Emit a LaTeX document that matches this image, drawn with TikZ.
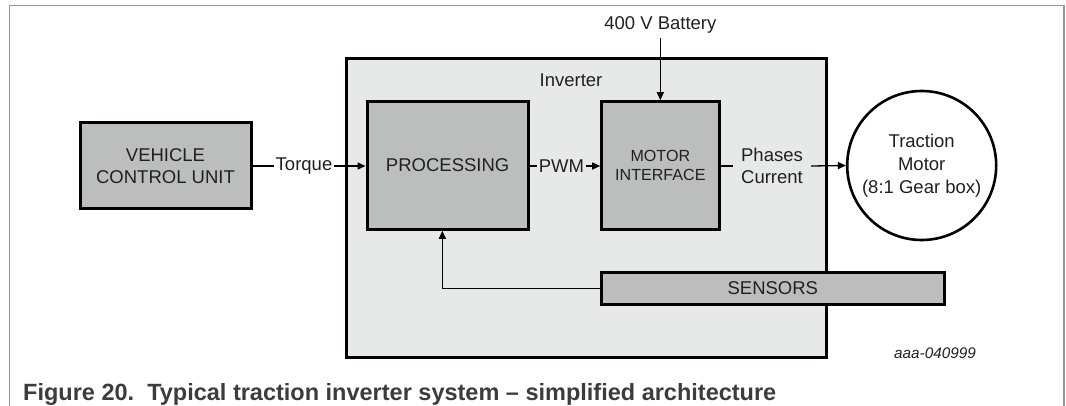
\documentclass[tikz,border=0pt]{standalone}
\usepackage{fontspec}
\setmainfont{Liberation Sans}
\usetikzlibrary{arrows.meta}
\definecolor{boxgray}{RGB}{188,189,189}
\definecolor{invgray}{RGB}{231,232,232}
\definecolor{framegray}{RGB}{150,150,150}
\definecolor{txt}{RGB}{35,31,32}
\definecolor{captxt}{RGB}{60,60,60}
\begin{document}
\begin{tikzpicture}[x=1pt,y=-1pt,
 blk/.style={draw=black, line width=3pt, fill=boxgray, inner sep=0pt, text=txt, align=center, font=\fontsize{18.5}{21.7}\selectfont},
 lbl/.style={text=txt, align=center, font=\fontsize{18.5}{22}\selectfont, inner sep=2pt},
 arr/.style={line width=1.3pt, -{Triangle[length=8pt,width=7pt]}},
 ln/.style={line width=1.3pt}]
\useasboundingbox (0,0) rectangle (1066,406);
% outer frame
\draw[framegray, line width=1.5pt] (9.5,406) -- (9.5,5.5) -- (1064,5.5) -- (1064,406);
% inverter
\node[draw=black, line width=3pt, fill=invgray, minimum width=480pt, minimum height=298.5pt, inner sep=0pt] (inv) at (586,208.25) {};
\node[lbl] (invlbl) at (571,80) {Inverter};
% blocks
\node[blk, minimum width=171pt, minimum height=86pt] (vcu) at (165.5,166) {VEHICLE\\CONTROL UNIT};
\node[blk, minimum width=161.3pt, minimum height=127.6pt] (proc) at (447.65,165.5) {PROCESSING};
\node[blk, minimum width=117.3pt, minimum height=127.6pt, font=\fontsize{16.1}{19}\selectfont] (mi) at (660.35,165.5) {MOTOR\\INTERFACE};
\node[blk, minimum width=342.3pt, minimum height=31.6pt] (sen) at (772.85,288.5) {SENSORS};
\node[draw=black, line width=2.6pt, circle, minimum size=149pt, inner sep=0pt, text=txt, align=center, font=\fontsize{18.5}{23}\selectfont] (motor) at (921.7,165.5) {Traction\\Motor\\(8:1 Gear box)};
% labels
\node[lbl] (tq) at (304,166) {Torque};
\node[lbl] (pwm) at (561.5,166) {PWM};
\node[lbl, inner xsep=8pt] (ph) at (772,166) {Phases\\Current};
\node[lbl, inner sep=4pt] (bat) at (660.35,25) {400 V Battery};
% connectors
\draw[ln] (vcu.east) -- (tq.west);
\draw[arr] (tq.east) -- (tq.east -| proc.west);
\draw[ln] (pwm.west -| proc.east) -- (pwm.west);
\draw[arr] (pwm.east) -- (pwm.east -| mi.west);
\draw[ln] (ph.west -| mi.east) -- (ph.west);
\draw[arr] (ph.east) -- (motor.west);
\draw[arr] (bat.south) -- (mi.north);
\draw[arr] (sen.west) -| ([xshift=-5.3pt]proc.south);
% code and caption
\node[text=txt, font=\itshape\fontsize{15.3}{18}\selectfont] (code) at (935,353) {aaa-040999};
\node[anchor=base west, text=captxt, font=\bfseries\fontsize{23.5}{28}\selectfont, inner sep=0pt] (cap) at (23,400) {Figure 20.\ \ Typical traction inverter system – simplified architecture};
\end{tikzpicture}
\end{document}
